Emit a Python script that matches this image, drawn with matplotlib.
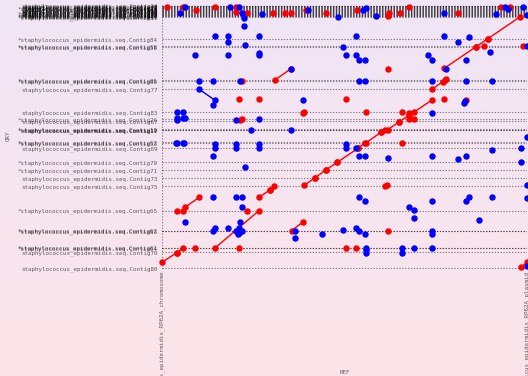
import numpy as np
import matplotlib
matplotlib.use("Agg")
import matplotlib.pyplot as plt

# Reference sequences (x axis, kb)
ref_names = ["Staphylococcus_epidermidis_RP62A_chromosome",
             "Staphylococcus_epidermidis_RP62A_plasmid"]
ref_starts = [0, 2617]
ref_total = 2617

# Query contigs (y axis, kb offsets of contig starts)
prefix = "staphylococcus_epidermidis.seq."
qry_starts = [0, 157, 198, 202, 368, 372, 573, 817, 900, 980, 1060, 1197,
              1250, 1255, 1375, 1380, 1385, 1470, 1485, 1560, 1787, 1870,
              1880, 2210, 2220, 2287,
              2510, 2515, 2520, 2525, 2530, 2535, 2540, 2545, 2550, 2555,
              2560, 2565, 2570, 2575, 2580, 2585, 2590, 2595, 2600, 2605,
              2610, 2615, 2620, 2624]
qry_names = ["Contig80", "Contig70", "*Contig64", "*Contig61", "*Contig63",
             "*Contig62", "*Contig65", "Contig75", "Contig73", "*Contig71",
             "*Contig79", "Contig69", "*Contig53", "*Contig52", "Contig17",
             "*Contig19", "*Contig12", "Contig67", "*Contig26", "Contig83",
             "Contig77", "*Contig86", "*Contig85", "*Contig56", "*Contig58",
             "*Contig84",
             "*Contig31", "*Contig44", "*Contig9", "Contig27", "*Contig38",
             "Contig41", "Contig22", "*Contig15", "Contig36", "Contig48",
             "*Contig5", "Contig33", "Contig29", "Contig40", "Contig11",
             "Contig2", "Contig7", "*Contig14", "Contig18", "Contig21",
             "Contig25", "Contig3", "Contig30", "Contig34"]
qry_top = 2625

# Forward alignments: (ref_start, qry_start, ref_end, qry_end)
fwd_aln = [
    (0, 57, 105, 153), (105, 153, 153, 200),
    (165, 607, 267, 707),
    (380, 200, 695, 573),
    (695, 707, 774, 780), (774, 780, 805, 817),
    (810, 1880, 925, 1993),
    (930, 373, 1013, 463),
    (1020, 827, 1095, 900), (1095, 900, 1174, 980), (1174, 980, 1257, 1057),
    (1257, 1057, 1405, 1197), (1405, 1197, 1458, 1253),
    (1465, 1253, 1572, 1360), (1572, 1360, 1599, 1380),
    (1618, 1383, 1701, 1463), (1701, 1463, 1773, 1528),
    (1773, 1528, 1936, 1680),
    (1936, 1787, 2036, 1887),
    (2024, 1997, 2251, 2212), (2251, 2212, 2335, 2292),
    (2335, 2292, 2569, 2513),
    (2574, 7, 2617, 57),
]
fwd_hit_x = [38, 148, 242, 380, 531, 531, 607, 798, 884, 923, 1030, 1174,
             1398, 1630, 1623, 1706, 1773, 2120, 2433, 2495, 2588, 2309,
             2013, 2029, 1618, 574, 552, 695, 1321, 2024, 2180, 559, 574,
             1013, 1020, 1465, 1721, 1773, 1809, 1773, 1809, 1721, 1601,
             1615, 110, 148, 612, 237, 552, 1321, 1389, 1618]
fwd_hit_y = [2607, 2607, 2580, 2607, 2607, 2557, 2553, 2547, 2553, 2547,
             2580, 2553, 2580, 2553, 2523, 2547, 2607, 2553, 2607, 2607,
             2220, 2217, 1863, 1880, 1993, 1867, 1690, 1690, 1690, 1693,
             1680, 1480, 1493, 1553, 1560, 1560, 1560, 1550, 1560, 1493,
             1493, 1253, 817, 827, 573, 573, 573, 200, 200, 200, 200, 373]

# Reverse alignments
rev_aln = [
    (267, 1787, 380, 1677),
    (1771, 607, 1809, 577),
]
rev_hit_x = [165, 129, 488, 552, 571, 588, 588, 715, 1049, 1264, 1443, 1460,
             1532, 2024, 2397, 2461, 2483, 2586, 2617,
             380, 475, 695, 475, 595, 237, 475, 695, 695, 1389, 1300, 1321,
             1389, 1410, 1453, 2024, 2201, 2122, 2354, 1907, 1936, 2178,
             2617, 925, 2034,
             267, 368, 559, 1410, 1453, 1936, 2178, 2366,
             368, 1009, 2175, 2163,
             105, 153, 105, 105, 148, 165, 528, 695, 636, 925, 98, 110, 148,
             158, 380, 380, 528, 528, 695, 695, 368, 595, 1321, 1321, 1389,
             1410, 1453, 1618, 1936, 1936, 2122, 2178, 2364, 2572, 2572,
             2617, 2617,
             368, 528, 571, 571, 165, 559, 380, 368, 475, 552, 531, 552, 571,
             547, 954, 951, 1145, 1300, 1389, 1410, 1453, 1410, 1453, 1807,
             1936, 1936, 1936, 2178, 2199, 2366, 2273, 2617, 1463, 1463,
             1463, 1721, 1721, 1809, 1936, 2617]
rev_hit_y = [2607, 2553, 2607, 2607, 2547, 2500, 2423, 2540, 2580, 2513,
             2580, 2600, 2517, 2547, 2537, 2607, 2587, 2607, 2530,
             2317, 2317, 2317, 2260, 2227, 2133, 2133, 2150, 2133, 2317,
             2207, 2133, 2133, 2083, 2083, 2317, 2307, 2260, 2157, 2127,
             2083, 2083, 2220, 1993, 1993,
             1870, 1870, 1867, 1870, 1867, 1867, 1867, 1873,
             1630, 1680, 1670, 1653,
             1560, 1560, 1503, 1480, 1503, 1497, 1480, 1493, 1383, 1383,
             1253, 1253, 1253, 1253, 1240, 1197, 1240, 1197, 1240, 1197,
             1117, 1013, 1240, 1197, 1197, 1117, 1117, 1100, 1553, 1117,
             1090, 1117, 1183, 1197, 1057, 1313, 827,
             707, 707, 707, 607, 457, 457, 403, 367, 403, 403, 367, 353, 367,
             340, 367, 297, 343, 377, 403, 367, 343, 707, 673, 497, 673, 367,
             343, 673, 707, 707, 477, 697, 200, 180, 147, 200, 153, 200, 200,
             20]

W, H = 528, 376
fig = plt.figure(figsize=(W / 100, H / 100), dpi=100)

# soft lavender-to-pink backdrop
bg = fig.add_axes([0, 0, 1, 1], zorder=-10)
top_c = np.array([240, 230, 246]) / 255
bot_c = np.array([252, 228, 233]) / 255
t = np.linspace(0, 1, 256)[:, None, None]
grad = top_c * (1 - t) + bot_c * t
grad = np.repeat(grad, 2, axis=1)
bg.imshow(grad, aspect="auto", extent=[0, 1, 0, 1])
bg.axis("off")

ax = fig.add_axes([162 / W, 1 - 268.5 / H, 365 / W, 263 / H])
ax.set_facecolor("none")
ax.set_xlim(0, ref_total)
ax.set_ylim(-5, qry_top)
for s in ax.spines.values():
    s.set_visible(False)

grid_kw = dict(color="black", alpha=0.45, lw=0.8, ls=(0, (1.2, 1.4)), zorder=1)
for y in qry_starts:
    ax.axhline(y, **grid_kw)
for x in ref_starts:
    ax.axvline(x, **grid_kw)

red, blue = "#ff0000", "#0000ff"
for x1, y1, x2, y2 in fwd_aln:
    ax.plot([x1, x2], [y1, y2], "-o", color=red, lw=1.0, ms=3.6, zorder=3,
            clip_on=False)
for x1, y1, x2, y2 in rev_aln:
    ax.plot([x1, x2], [y1, y2], "-o", color=blue, lw=1.0, ms=3.6, zorder=3,
            clip_on=False)
ax.plot(fwd_hit_x, fwd_hit_y, "o", color=red, ms=3.6, zorder=3, clip_on=False)
ax.plot(rev_hit_x, rev_hit_y, "o", color=blue, ms=3.6, zorder=3, clip_on=False)

mono = "DejaVu Sans Mono"
ax.set_yticks(qry_starts)
ax.set_yticklabels(
    [("*" + prefix + n[1:]) if n.startswith("*") else prefix + n
     for n in qry_names],
    fontsize=4.2, family=mono, color="black", alpha=0.6)
ax.set_xticks(ref_starts)
ax.set_xticklabels(ref_names, rotation=90, fontsize=4.2, family=mono,
                   color="black", alpha=0.6, va="top", ha="center")
ax.tick_params(length=0, pad=3)
ax.tick_params(axis="x", pad=1.5)

fig.text(345 / W, 1 - 373 / H, "REF", fontsize=4.2, family=mono,
         color="black", alpha=0.6, ha="center", va="center")
fig.text(8 / W, 1 - 136 / H, "QRY", fontsize=4.2, family=mono,
         color="black", alpha=0.6, ha="center", va="center", rotation=90)

fig.savefig("out.png", dpi=100)
